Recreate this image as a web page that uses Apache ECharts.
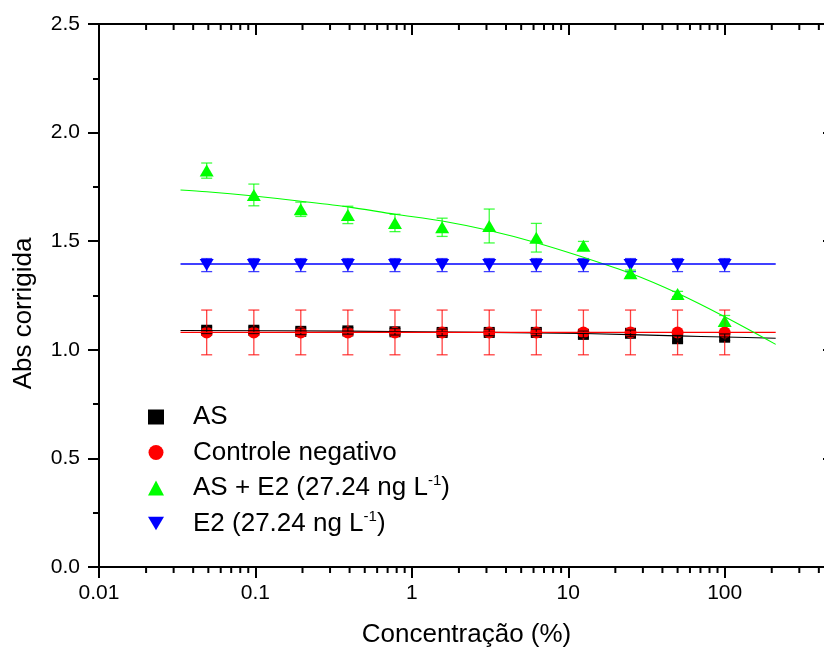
<!DOCTYPE html>
<html><head><meta charset="utf-8">
<script src="https://cdn.jsdelivr.net/npm/echarts@6/dist/echarts.min.js"></script>
<style>html,body{margin:0;padding:0;background:#fff}#c{width:824px;height:648px}</style>
</head><body><div id="c"></div>
<script>
// ---- data ----
const concentrations = [0.0488, 0.0977, 0.195, 0.39, 0.78, 1.5625, 3.125, 6.25, 12.5, 25, 50, 100];
const seriesNames = ['AS', 'Controle negativo', 'AS + E2 (27.24 ng L-1)', 'E2 (27.24 ng L-1)'];
const asValues    = [1.090, 1.090, 1.085, 1.087, 1.083, 1.080, 1.080, 1.080, 1.071, 1.076, 1.051, 1.058];
const asErrors    = [0.015, 0.015, 0.015, 0.015, 0.015, 0.015, 0.015, 0.015, 0.015, 0.015, 0.015, 0.015];
const negValues   = [1.080, 1.080, 1.080, 1.080, 1.080, 1.080, 1.080, 1.080, 1.080, 1.080, 1.080, 1.080];
const negErrors   = [0.103, 0.103, 0.103, 0.103, 0.103, 0.103, 0.103, 0.103, 0.103, 0.103, 0.103, 0.103];
const asE2Values  = [1.825, 1.713, 1.647, 1.621, 1.584, 1.564, 1.570, 1.516, 1.479, 1.352, 1.257, 1.133];
const asE2Errors  = [0.035, 0.050, 0.033, 0.040, 0.040, 0.042, 0.078, 0.066, 0.020, 0.015, 0.012, 0.025];
const e2Values    = [1.390, 1.390, 1.390, 1.390, 1.390, 1.390, 1.390, 1.390, 1.390, 1.390, 1.390, 1.390];
const e2Errors    = [0.030, 0.030, 0.030, 0.030, 0.030, 0.030, 0.030, 0.030, 0.030, 0.030, 0.030, 0.030];
// fitted curves: [concentration, value]
const asFit   = [[0.0332, 1.089], [0.39, 1.086], [3.125, 1.080], [12.5, 1.075], [50, 1.064], [100, 1.059], [212, 1.053]];
const negFit  = [[0.0332, 1.080], [212, 1.080]];
const asE2Fit = [[0.0332, 1.736], [0.0488, 1.728], [0.0977, 1.708], [0.195, 1.684], [0.39, 1.658], [0.78, 1.624],
                 [1.5625, 1.593], [3.125, 1.549], [6.25, 1.493], [12.5, 1.426], [25, 1.352], [50, 1.260], [100, 1.152], [212, 1.025]];
const e2Fit   = [[0.0332, 1.395], [212, 1.395]];
const xTickLabels = ['0.01', '0.1', '1', '10', '100'];
const yTickLabels = ['0.0', '0.5', '1.0', '1.5', '2.0', '2.5'];
const xDecades = [0.01, 0.1, 1, 10, 100];
const minorMultipliers = [2, 3, 4, 5, 6, 7, 8, 9];
const X_MIN = 0.01, X_MAX = 500;

const FONT = 'Liberation Sans';
const colors = ['#000000', '#ff0000', '#00ff00', '#0000ff'];
const symbols = ['rect', 'circle', 'triangle', 'path://M0,0L20,0L10,17Z'];
const symbolSizes = [11, 12, [14, 12], [14, 12]];

function pairs(xs, ys) { return xs.map((x, i) => [x, ys[i]]); }

const minorTickValues = [];
xDecades.forEach(d => minorMultipliers.forEach(m => { const v = +(d * m).toPrecision(6); if (v < X_MAX) minorTickValues.push(v); }));

function errorSeries(name, ys, errs, color, z) {
  return {
    type: 'custom', name: name + ' err', silent: true, z: z, clip: false,
    data: concentrations.map((x, i) => [x, ys[i] - errs[i], ys[i] + errs[i]]),
    encode: { x: 0, y: [1, 2] },
    renderItem: function (params, api) {
      const lo = api.coord([api.value(0), api.value(1)]);
      const hi = api.coord([api.value(0), api.value(2)]);
      const hw = 5.5;
      const st = { stroke: color, lineWidth: 1.3, opacity: 0.75 };
      return { type: 'group', children: [
        { type: 'line', shape: { x1: lo[0], y1: lo[1], x2: hi[0], y2: hi[1] }, style: st },
        { type: 'line', shape: { x1: lo[0] - hw, y1: lo[1], x2: lo[0] + hw, y2: lo[1] }, style: st },
        { type: 'line', shape: { x1: hi[0] - hw, y1: hi[1], x2: hi[0] + hw, y2: hi[1] }, style: st }
      ] };
    }
  };
}
function scatterSeries(idx, ys, z) {
  return {
    type: 'scatter', name: seriesNames[idx], data: pairs(concentrations, ys),
    symbol: symbols[idx], symbolSize: symbolSizes[idx], z: z,
    itemStyle: { color: colors[idx], opacity: 1 }
  };
}
function fitSeries(idx, data, z) {
  return {
    type: 'line', name: seriesNames[idx] + ' fit', data: data, smooth: 0.3, showSymbol: false, symbol: 'none',
    silent: true, z: z, lineStyle: { color: colors[idx], width: idx === 3 ? 1.5 : 1.1 }
  };
}
// log-axis minor ticks (2..9 per decade) on bottom (outward) and top (inward)
const minorTickSeries = {
  type: 'custom', name: 'minor ticks', silent: true, clip: false, z: 10,
  data: minorTickValues.map(v => [v]),
  encode: { x: 0 },
  renderItem: function (params, api) {
    const b = api.coord([api.value(0), 0]);
    const t = api.coord([api.value(0), 2.5]);
    const st = { stroke: '#000', lineWidth: 2 };
    return { type: 'group', children: [
      { type: 'line', shape: { x1: b[0], y1: b[1], x2: b[0], y2: b[1] + 6 }, style: st },
      { type: 'line', shape: { x1: t[0], y1: t[1], x2: t[0], y2: t[1] + 6 }, style: st }
    ] };
  }
};

const axisLine = { show: true, onZero: false, lineStyle: { color: '#000', width: 2 } };
const chart = echarts.init(document.getElementById('c'), null, { renderer: 'canvas' });
chart.setOption({
  animation: false,
  backgroundColor: '#fff',
  grid: { left: 99, top: 24, right: -10, bottom: 81, containLabel: false, outerBoundsMode: 'none' },
  xAxis: [
    { type: 'log', logBase: 10, min: X_MIN, max: X_MAX, position: 'bottom',
      axisLine: axisLine,
      axisTick: { show: true, inside: false, length: 11, lineStyle: { color: '#000', width: 2 } },
      minorTick: { show: false }, splitLine: { show: false },
      axisLabel: { show: true, margin: 16, fontSize: 21, fontFamily: FONT, color: '#000', showMaxLabel: false,
        formatter: function (v) { const k = Math.round(Math.log10(v)) + 2; return xTickLabels[k] !== undefined ? xTickLabels[k] : ''; } },
      name: 'Concentração (%)', nameLocation: 'middle', nameGap: 55,
      nameTextStyle: { fontSize: 26, fontFamily: FONT, color: '#000' } },
    { type: 'log', logBase: 10, min: X_MIN, max: X_MAX, position: 'top',
      axisLine: axisLine,
      axisTick: { show: true, inside: true, length: 11, lineStyle: { color: '#000', width: 2 } },
      minorTick: { show: false }, splitLine: { show: false }, axisLabel: { show: false } }
  ],
  yAxis: [
    { type: 'value', min: 0, max: 2.5, interval: 0.5, position: 'left',
      axisLine: axisLine,
      axisTick: { show: true, inside: false, length: 11, lineStyle: { color: '#000', width: 2 } },
      minorTick: { show: true, splitNumber: 2, length: 6, lineStyle: { color: '#000', width: 2 } },
      splitLine: { show: false },
      axisLabel: { margin: 19, fontSize: 21, fontFamily: FONT, color: '#000',
        formatter: function (v) { return yTickLabels[Math.round(v / 0.5)]; } },
      name: 'Abs corrigida', nameLocation: 'middle', nameGap: 62,
      nameTextStyle: { fontSize: 26, fontFamily: FONT, color: '#000', padding: [0, 36, 0, 0] } },
    { type: 'value', min: 0, max: 2.5, interval: 0.5, position: 'right',
      axisLine: axisLine,
      axisTick: { show: true, inside: true, length: 11, lineStyle: { color: '#000', width: 2 } },
      minorTick: { show: true, splitNumber: 2, length: 6, lineStyle: { color: '#000', width: 2 } },
      splitLine: { show: false }, axisLabel: { show: false } }
  ],
  legend: {
    orient: 'vertical', left: 148, top: 402, padding: 0, itemWidth: 16, itemHeight: 15, itemGap: 5.5,
    selectedMode: false,
    data: seriesNames,
    formatter: function (name) { return name.replace('L-1', 'L{sup|-1}'); },
    textStyle: { fontSize: 26, fontFamily: FONT, color: '#000', lineHeight: 30, padding: [0, 0, 0, 24],
      rich: { sup: { fontSize: 15, fontFamily: FONT, color: '#000', lineHeight: 30, padding: [0, 0, 14, 0] } } }
  },
  series: [
    scatterSeries(0, asValues, 3),
    scatterSeries(1, negValues, 4),
    errorSeries('neg', negValues, negErrors, colors[1], 5),
    errorSeries('as', asValues, asErrors, colors[0], 5),
    scatterSeries(3, e2Values, 3),
    errorSeries('e2', e2Values, e2Errors, colors[3], 4),
    scatterSeries(2, asE2Values, 4),
    errorSeries('ase2', asE2Values, asE2Errors, colors[2], 5),
    fitSeries(0, asFit, 6),
    fitSeries(1, negFit, 6),
    fitSeries(2, asE2Fit, 6),
    fitSeries(3, e2Fit, 6),
    minorTickSeries
  ]
});
</script></body></html>
